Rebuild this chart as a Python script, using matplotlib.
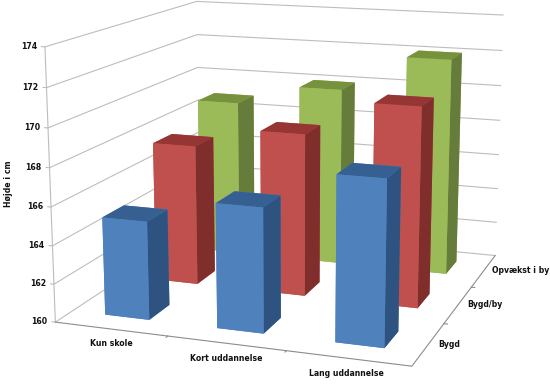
import numpy as np
import matplotlib
matplotlib.use('Agg')
import matplotlib.pyplot as plt

# Data aflaest fra figuren
uddannelse = ['Kun skole', 'Kort uddannelse', 'Lang uddannelse']
opvaekst = ['Bygd', 'Bygd/by', 'Opvækst i by']
bygd = [165.15, 166.43, 168.38]
bygd_by = [167.67, 168.77, 170.65]
by_ = [168.87, 170.02, 172.05]
z_ticks = [160, 162, 164, 166, 168, 170, 172, 174]

serier = [bygd, bygd_by, by_]
# farver: bund, top, for, bag, venstre, hoejre
farver = [
    ['#4F81BD', '#376092', '#4F81BD', '#4F81BD', '#4F81BD', '#2F5380'],
    ['#C0504D', '#963634', '#C0504D', '#C0504D', '#C0504D', '#7F2E2C'],
    ['#9BBB59', '#76923C', '#9BBB59', '#9BBB59', '#9BBB59', '#667C3B'],
]
grid = '#bdbdbd'
tekst = '#111111'
zmin = z_ticks[0]
zmax = z_ticks[-1]
fs = 5.6

fig = plt.figure(figsize=(5.5, 3.85), dpi=100)
s = 5.4614
cx, cy = 0.5150, 0.5634
ax = fig.add_axes([cx - s / 2 / 5.5, cy - s / 2 / 3.85, s / 5.5, s / 3.85], projection='3d', computed_zorder=False)
ax.set_box_aspect((1.3234, 1.3433, 1))
ax.view_init(13.1454, -70.6437)
ax.set_proj_type('persp', focal_length=0.5054)
ax.set_xlim(0, 3)
ax.set_ylim(0, 3)
ax.set_zlim(zmin, zmax)
ax.set_axis_off()
for akse in [ax.xaxis, ax.yaxis, ax.zaxis]:
    akse.label.set_visible(False)
    akse.offsetText.set_visible(False)

# Vægge og gitter
for z in z_ticks:
    ax.plot([0, 0, 3], [0, 3, 3], [z, z, z], color=grid, lw=0.8, zorder=1)
    ax.plot([-0.03, 0], [0, 0], [z, z], color=grid, lw=0.8, zorder=1)
ax.plot([0, 0], [0, 0], [zmin, zmax], color=grid, lw=0.8, zorder=1)
ax.plot([0, 3, 3], [0, 0, 3], [zmin, zmin, zmin], color='#8c8c8c', lw=0.8, zorder=1)
for t in [1, 2]:
    ax.plot([t, t], [0, -0.03], [zmin, zmin], color='#8c8c8c', lw=0.8, zorder=1)
    ax.plot([3, 3.03], [t, t], [zmin, zmin], color='#8c8c8c', lw=0.8, zorder=1)

# Søjler, bagest først
bredde = 0.40
dybde = 0.40
for r in [2, 1, 0]:
    for k in range(3):
        ax.bar3d(k + 0.30, r + 0.30, zmin, bredde, dybde, serier[r][k] - zmin,
                 color=farver[r], shade=False, zorder=10 + (2 - r) * 3 + k)

for z in z_ticks:
    ax.text(-0.07, 0, z, str(z), ha='right', va='center', fontsize=fs, fontweight='bold', color=tekst)
for k, navn in enumerate(uddannelse):
    ax.text(k + [0.65, 0.62, 0.58][k], -0.3, zmin, navn, ha='center', va='center', fontsize=fs, fontweight='bold', color=tekst)
for r, navn in enumerate(opvaekst):
    ax.text(3.07, r + 0.52, zmin, navn, ha='left', va='center', fontsize=fs, fontweight='bold', color=tekst)
fig.text(9 / 550, 1 - 184 / 385, 'Højde i cm', rotation=90, ha='center', va='center', fontsize=fs, fontweight='bold', color=tekst)

fig.savefig('out.png', dpi=100)
